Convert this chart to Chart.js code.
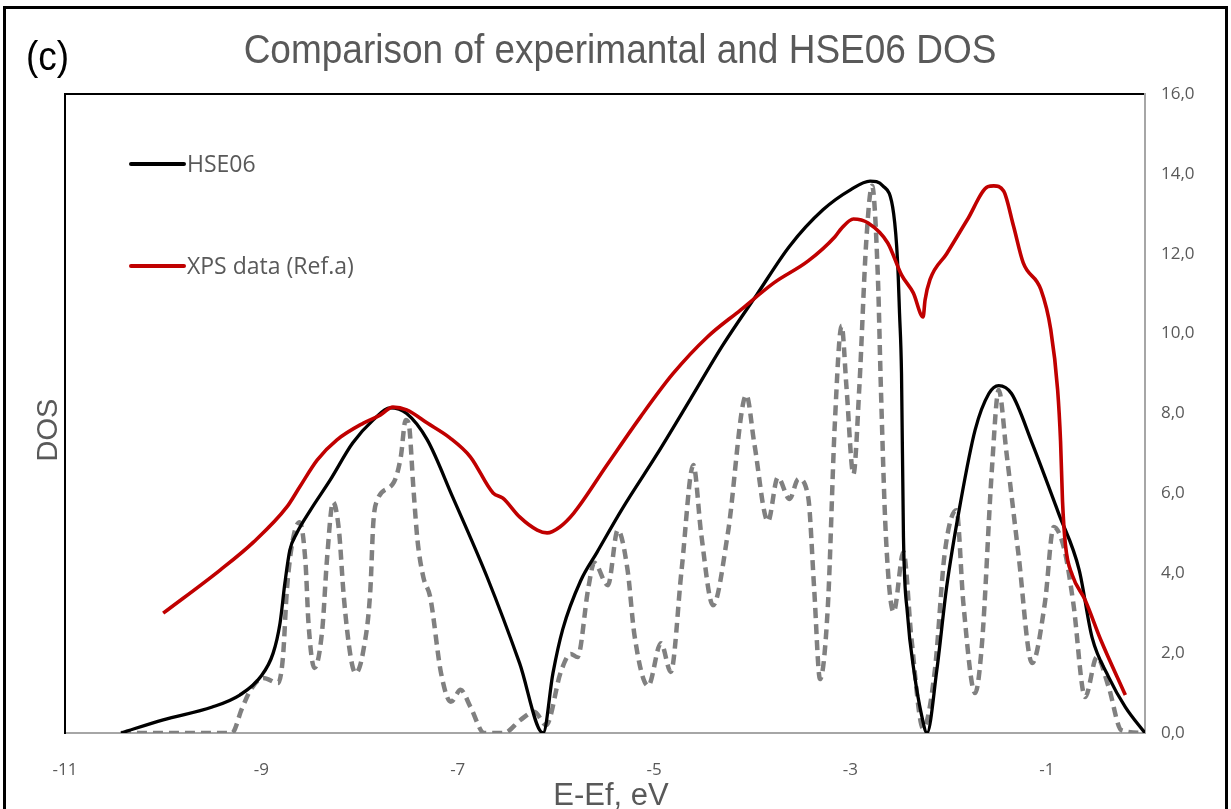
<!DOCTYPE html>
<html><head><meta charset="utf-8">
<script src="https://cdn.jsdelivr.net/npm/chart.js@4.4.1/dist/chart.umd.min.js"></script>
<style>html,body{margin:0;padding:0;background:#fff;}canvas{display:block;}</style>
</head><body>
<canvas id="c" width="1231" height="809"></canvas>
<script>
const xTicks = [-11, -9, -7, -5, -3, -1];
const yTicks = [0, 2, 4, 6, 8, 10, 12, 14, 16];

const hseE = [-10.43,-10.0,-9.5,-9.22,-9.01,-8.88,-8.81,-8.76,-8.71,-8.64,-8.5,-8.3,-8.07,-7.86,-7.69,-7.52,-7.31,-7.05,-6.7,-6.37,-6.13,-6.03,-5.93,-5.75,-5.58,-5.32,-4.97,-4.63,-4.3,-3.95,-3.62,-3.28,-3.0,-2.8,-2.67,-2.56,-2.52,-2.5,-2.48,-2.46,-2.42,-2.35,-2.28,-2.22,-2.12,-2.02,-1.88,-1.73,-1.59,-1.49,-1.36,-1.15,-0.88,-0.67,-0.54,-0.37,-0.2,0];
const hseDOS = [0,0.33,0.65,0.95,1.4,2.0,2.75,3.76,4.58,5.0,5.58,6.33,7.26,7.84,8.14,8.0,7.34,5.9,3.9,1.75,0,1.5,2.6,3.8,4.53,5.63,6.98,8.36,9.71,10.99,12.19,13.1,13.6,13.82,13.7,13.0,11.8,10.5,9.0,4.9,3.0,1.5,0.5,0,1.58,3.66,5.76,7.59,8.5,8.7,8.5,7.26,5.5,4.08,2.4,1.4,0.65,0];

const xpsE = [-10.0,-9.42,-9.08,-8.74,-8.61,-8.43,-8.23,-7.96,-7.79,-7.66,-7.52,-7.31,-7.08,-6.87,-6.64,-6.54,-6.37,-6.19,-6.09,-5.96,-5.82,-5.48,-5.14,-4.81,-4.46,-4.12,-3.78,-3.43,-3.16,-3.09,-2.97,-2.82,-2.62,-2.48,-2.36,-2.26,-2.24,-2.19,-2.02,-1.81,-1.6,-1.54,-1.44,-1.34,-1.24,-1.06,-0.96,-0.89,-0.86,-0.84,-0.81,-0.74,-0.61,-0.45,-0.2];
const xpsDOS = [3.0,4.08,4.78,5.66,6.16,6.84,7.34,7.76,7.96,8.16,8.09,7.76,7.39,6.91,6.01,5.88,5.41,5.08,5.01,5.16,5.5,6.71,7.91,8.99,9.91,10.59,11.27,11.82,12.42,12.64,12.87,12.77,12.27,11.47,11.02,10.42,10.84,11.35,12.0,12.85,13.68,13.7,13.57,12.7,11.77,11.1,10.1,8.6,7.3,5.8,4.7,3.95,3.33,2.33,0.95];

const totE = [-10.43,-9.3,-9.2,-9.11,-8.98,-8.83,-8.78,-8.74,-8.68,-8.61,-8.55,-8.52,-8.46,-8.38,-8.33,-8.27,-8.21,-8.16,-8.09,-8.04,-7.96,-7.89,-7.86,-7.82,-7.65,-7.58,-7.53,-7.5,-7.45,-7.41,-7.35,-7.28,-7.17,-7.07,-6.97,-6.87,-6.73,-6.53,-6.36,-6.22,-6.1,-5.95,-5.85,-5.78,-5.67,-5.61,-5.47,-5.37,-5.27,-5.2,-5.06,-4.93,-4.83,-4.72,-4.6,-4.52,-4.4,-4.25,-4.06,-3.98,-3.84,-3.74,-3.62,-3.53,-3.43,-3.37,-3.31,-3.23,-3.16,-3.09,-3.04,-2.97,-2.91,-2.84,-2.78,-2.72,-2.69,-2.64,-2.56,-2.46,-2.38,-2.26,-2.14,-2.04,-1.92,-1.85,-1.73,-1.66,-1.56,-1.49,-1.41,-1.29,-1.15,-1.02,-0.93,-0.82,-0.73,-0.61,-0.49,-0.37,-0.24,0];
const totDOS = [0,0,0.6,1.08,1.38,1.25,1.9,3.58,4.83,5.28,4.25,2.75,1.63,2.58,4.4,5.78,5.08,3.4,1.9,1.5,2.08,3.58,5.26,5.83,6.28,6.91,7.84,7.76,6.08,4.83,3.9,3.4,1.5,0.78,1.08,0.65,0,0,0.33,0.53,0.2,1.53,1.98,1.9,3.63,4.26,3.7,5.08,4.08,2.45,1.18,2.25,1.53,4.08,6.71,4.98,3.2,4.98,8.46,7.26,5.3,6.4,5.86,6.36,5.9,3.63,1.35,3.18,7.7,10.2,8.64,6.48,8.64,12.27,13.7,11.37,8.64,4.98,3.03,4.53,2.4,0.12,1.58,4.5,5.58,3.25,1.0,2.25,6.58,8.59,7.0,4.5,1.75,3.25,5.16,4.58,3.25,0.9,1.9,1.15,0.07,0];

const titleText = 'Comparison of experimantal and HSE06 DOS';
const panelText = '(c)';
const xTitle = 'E-Ef, eV';
const yTitle = 'DOS';
const legendLabels = ['HSE06', 'XPS data (Ref.a)'];

const pts = (xs, ys) => xs.map((x, i) => ({x: x, y: ys[i]}));
const TXT = '#595959';

const decor = {
  id: 'decor',
  afterDraw(chart) {
    const ctx = chart.ctx;
    ctx.save();
    ctx.strokeStyle = '#000';
    ctx.lineWidth = 3;
    ctx.strokeRect(4.5, 7.5, 1222, 830);
    ctx.textBaseline = 'alphabetic';
    ctx.font = '37px "Liberation Sans", Arial, sans-serif';
    // title (slightly tall glyphs as in reference)
    ctx.save();
    ctx.translate(620, 63);
    ctx.scale(1, 1.08);
    ctx.fillStyle = TXT;
    ctx.textAlign = 'center';
    ctx.fillText(titleText, 0, 0);
    ctx.restore();
    // panel label
    ctx.save();
    ctx.translate(26, 70);
    ctx.scale(1, 1.1);
    ctx.fillStyle = '#000';
    ctx.textAlign = 'left';
    ctx.fillText(panelText, 0, 0);
    ctx.restore();
    // x title
    ctx.fillStyle = TXT;
    ctx.textAlign = 'center';
    ctx.font = '31px "Liberation Sans", Arial, sans-serif';
    ctx.fillText(xTitle, 611, 805);
    // y title
    ctx.save();
    ctx.translate(57, 430);
    ctx.rotate(-Math.PI / 2);
    ctx.font = '29px "Liberation Sans", Arial, sans-serif';
    ctx.fillText(yTitle, 0, 0);
    ctx.restore();
    // legend
    const ys = [164, 266];
    legendLabels.forEach((lab, i) => {
      const ds = chart.data.datasets.find(d => d.label === lab);
      ctx.strokeStyle = ds.borderColor;
      ctx.lineWidth = 4;
      ctx.lineCap = 'round';
      ctx.beginPath();
      ctx.moveTo(131, ys[i]);
      ctx.lineTo(184, ys[i]);
      ctx.stroke();
      ctx.fillStyle = TXT;
      ctx.textAlign = 'left';
      ctx.textBaseline = 'middle';
      ctx.font = '23px "Open Sans", sans-serif';
      ctx.fillText(lab, 187, ys[i] + 1);
    });
    ctx.restore();
  }
};

const tickFont = {family: '"Open Sans", sans-serif', size: 17};

new Chart(document.getElementById('c'), {
  type: 'line',
  data: {
    datasets: [
      {label: 'XPS data (Ref.a)', data: pts(xpsE, xpsDOS), borderColor: '#C00000', borderWidth: 3.6,
       pointRadius: 0, cubicInterpolationMode: 'monotone', xAxisID: 'x', yAxisID: 'y', order: 0, fill: false},
      {label: 'HSE06', data: pts(hseE, hseDOS), borderColor: '#000000', borderWidth: 3.3,
       pointRadius: 0, cubicInterpolationMode: 'monotone', xAxisID: 'x', yAxisID: 'y', order: 1, fill: false},
      {label: 'Total', data: pts(totE, totDOS), borderColor: '#808080', borderWidth: 4.5, borderDash: [10, 6],
       pointRadius: 0, cubicInterpolationMode: 'monotone', xAxisID: 'x', yAxisID: 'y', order: 2, fill: false}
    ]
  },
  options: {
    responsive: false,
    animation: false,
    layout: {padding: 0},
    plugins: {legend: {display: false}, tooltip: {enabled: false}, title: {display: false}},
    scales: {
      x: {
        type: 'linear', position: 'bottom', min: -11, max: 0,
        afterBuildTicks: s => { s.ticks = xTicks.map(v => ({value: v})); },
        ticks: {padding: 27, color: TXT, font: tickFont, maxRotation: 0, autoSkip: false},
        grid: {display: true, drawOnChartArea: false, drawTicks: false},
        border: {color: '#a6a6a6', width: 2},
        afterFit: s => { s.height = 76; }
      },
      xTop: {
        type: 'linear', position: 'top', min: -11, max: 0,
        ticks: {display: false},
        grid: {display: true, drawOnChartArea: false, drawTicks: false},
        border: {color: '#000', width: 2},
        afterFit: s => { s.height = 94; }
      },
      y: {
        type: 'linear', position: 'right', min: 0, max: 16,
        afterBuildTicks: s => { s.ticks = yTicks.map(v => ({value: v})); },
        ticks: {padding: 16, color: TXT, font: tickFont, callback: v => v.toFixed(1).replace('.', ',')},
        grid: {display: true, drawOnChartArea: false, drawTicks: false},
        border: {color: '#a6a6a6', width: 2},
        afterFit: s => { s.width = 86; }
      },
      yL: {
        type: 'linear', position: 'left', min: 0, max: 16,
        ticks: {display: false},
        grid: {display: true, drawOnChartArea: false, drawTicks: false},
        border: {color: '#000', width: 2},
        afterFit: s => { s.width = 65; }
      }
    }
  },
  plugins: [decor]
});
</script>
</body></html>
